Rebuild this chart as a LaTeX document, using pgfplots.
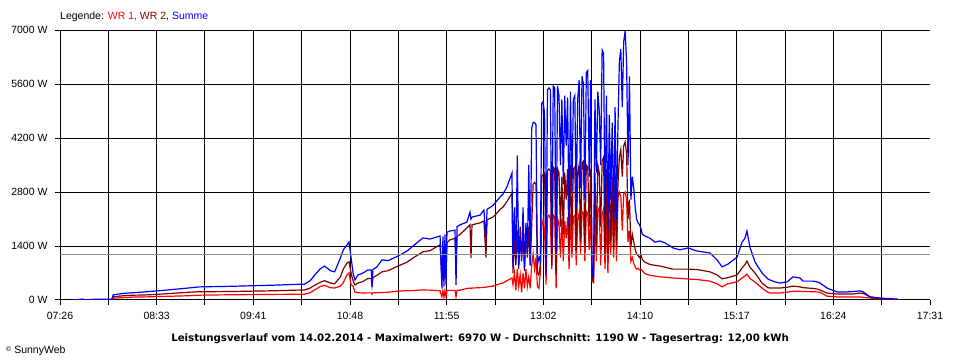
\documentclass[border=0pt]{standalone}
\usepackage{pgfplots}
\pgfplotsset{compat=1.18}
\usepackage{pgfplotstable}
\usepackage{fontspec}
\setmainfont{Liberation Sans}
\newfontfamily\titlefont{DejaVu Sans}
\definecolor{wrone}{RGB}{255,0,0}
\definecolor{wrtwo}{RGB}{128,0,0}
\definecolor{summe}{RGB}{0,0,255}
\definecolor{avg}{RGB}{140,140,140}
\pgfplotstableread{
t w1 w2 s
455 0 0 0
462 0 0 25
463 0 0 0
470 0 0 20
482 5 10 20
483 50 85 135
490 60 110 170
497 75 125 190
505 80 130 210
515 90 150 240
525 100 175 275
535 110 200 310
543 125 215 340
550 130 215 345
565 135 220 355
580 140 230 370
595 145 240 385
610 148 255 405
616 150 260 410
620 190 310 500
623 260 380 640
627 350 460 810
630 380 500 880
634 320 440 760
637 310 420 730
641 360 600 1090
643 450 800 1300
645.6 650 960 1430
647 700 990 1500
648.4 400 700 1100
649.8 360 500 700
651.1 210 390 520
653.2 190 440 650
656.7 180 480 700
660.2 185 560 780
662.5 185 560 780
663 150 380 340
663.6 185 580 790
666.4 190 640 860
669.9 195 730 1040
674.1 200 760 1020
681 230 880 1140
687.3 240 980 1270
691.5 245 1090 1400
698.4 260 1250 1610
703.3 255 1280 1580
710.3 240 1430 1660
711.6 80 500 300
712.3 240 1400 1650
713 80 520 350
713.7 240 1450 1700
714.4 90 600 400
715.1 245 1480 1760
717.2 250 1560 1790
720.7 250 1600 1810
721.4 80 880 390
722.1 250 1650 1900
724.2 255 1700 1950
729 300 1870 2020
731.1 310 1950 2280
731.8 300 1090 2100
732.5 310 1950 2150
738.1 320 2000 2200
740.8 330 2050 2330
742.2 330 1100 1600
743 340 2080 2350
747.1 360 2150 2450
748.5 380 2200 2510
752 420 2350 2670
754.1 440 2410 2750
756.8 500 2550 2930
760.3 570 2770 3290
761 400 700 850
762 700 1600 2400
763 250 900 1000
764 800 1800 3750
765 350 800 900
766 650 1900 1600
767 200 1000 1100
768 700 1700 2400
769 300 750 800
770 800 1800 2000
771 350 1100 1200
772 600 1900 3500
773 300 900 900
774 900 1900 4450
775 1200 3000 4600
776 800 3050 4600
777 1100 3000 4550
778 350 700 900
779 300 650 1100
780 700 900 1000
781 1900 3200 5100
782 2100 3250 5150
783 1800 3300 4800
784 400 700 650
785 2150 3350 5450
786 2200 3400 5500
787 2100 3350 5450
788 800 900 1200
789 2200 3450 5550
790 2150 3400 5500
791 300 700 1250
792 2100 3400 5550
793 2000 3300 5300
794 1100 1900 3500
795 2100 3200 5200
796 1000 1700 3000
797 2050 3300 5300
798 1600 2600 4000
799 2150 3400 5250
800 800 1300 1900
801 2200 3500 5400
802 1100 1700 2800
803 2150 3400 5200
804 2200 3450 5300
805 900 1300 2400
806 2100 3300 5200
807 2250 3500 5700
808 1200 1500 2900
809 2300 3550 5800
810 2250 3600 5600
811 1000 1400 2600
812 2300 3500 5900
813 2250 3450 5950
814 1300 1900 3200
815 2200 3400 5700
816 500 550 650
817 450 500 600
818 2100 3300 5200
819 1000 1400 3300
820 2300 3500 5400
821 2400 3300 4900
822 900 1900 3500
823 2200 3600 6480
824 2350 3700 6400
825 800 1200 2200
826 2200 3400 5300
827 700 1100 1800
828 2100 3300 4800
829 1200 1500 2600
830 2600 3200 4600
831 1100 1300 2000
832 2700 3300 5000
833 1000 1400 2100
834 2650 3000 4500
835 2800 3700 6200
836 2700 3900 6500
837 1800 3200 5000
838 2750 4000 6700
839 2800 4100 6970
840 2600 3800 6200
841 1500 2100 3500
842 1800 2600 5800
843 1000 1400 2600
844 1100 1700 3200
845 950 1500 2900
846 850 1300 2400
847 800 1200 2100
848 820 1150 2000
849 780 1100 1950
850 800 1170 1850
851 760 1050 1700
852.8 680 980 1660
856.3 640 920 1600
859.8 620 900 1500
863.2 600 880 1530
866.7 590 850 1480
872.3 570 800 1350
877.1 560 800 1300
882.7 545 800 1350
889 530 790 1270
898 490 730 1220
902.9 420 650 1040
906.4 340 550 860
910.5 420 580 930
916.8 470 650 1110
920.3 570 830 1500
922.3 620 920 1600
923.7 670 1010 1790
925.8 560 850 1370
929.3 465 700 985
934.2 310 440 700
938.3 200 320 545
939.7 180 310 520
943.2 180 310 470
946.7 180 310 440
951.6 200 330 470
955.7 230 360 600
960.6 225 340 570
962.7 220 320 490
969.6 215 300 490
972.4 210 285 470
974.5 200 260 440
979.4 100 180 310
986.3 80 155 210
993.3 80 155 210
997.5 80 155 220
1002.3 80 180 235
1004.4 70 175 215
1009.3 50 80 80
1016.2 30 40 50
1018.3 25 25 45
1028 10 10 25
1030 0 0 0
}\leistung
\begin{document}
\begin{tikzpicture}
\useasboundingbox (0,0) rectangle (960bp,360bp);
\fill[white] (0,0) rectangle (960bp,360bp);
\begin{axis}[
  at={(60bp,60bp)}, anchor=south west,
  scale only axis, width=870bp, height=270bp,
  xmin=446, xmax=1051, ymin=0, ymax=7000,
  axis lines=left, axis line style={-, line width=1bp, black},
  xtick={446,479.61,513.22,546.83,580.44,614.06,647.67,681.28,714.89,748.5,782.11,815.72,849.33,882.94,916.56,950.17,983.78,1017.39},
  xticklabels={07:26,,08:33,,09:41,,10:48,,11:55,,13:02,,14:10,,15:17,,16:24,},
  extra x ticks={1051}, extra x tick labels={17:31}, extra x tick style={grid=none},
  ytick={0,1400,2800,4200,5600,7000},
  yticklabels={0 W,1400 W,2800 W,4200 W,5600 W,7000 W},
  grid=major, major grid style={black, line width=1bp},
  tick align=outside, major tick length=5bp, tick style={black, line width=1bp},
  ticklabel style={font=\fontsize{10.5bp}{12bp}\selectfont},
  xticklabel style={yshift=-4bp},
  yticklabel style={xshift=-4bp},
]
\addplot[wrone, line width=1.2bp] table[x=t, y=w1] {\leistung};
\addplot[wrtwo, line width=1.2bp] table[x=t, y=w2] {\leistung};
\addplot[summe, line width=1.2bp] table[x=t, y=s] {\leistung};
\addplot[avg, line width=1bp] coordinates {(446,1190) (1051,1190)};
\end{axis}
\node[anchor=base west, inner sep=0pt, font=\fontsize{10.5bp}{12bp}\selectfont] at (60bp,340.5bp)
  {Legende: \textcolor{wrone}{WR 1,} \textcolor{wrtwo}{WR 2,} \textcolor{summe}{Summe}};
\node[anchor=base, inner sep=0pt, font=\titlefont\fontsize{10.2bp}{12bp}\selectfont\bfseries] at (480bp,19bp)
  {Leistungsverlauf vom 14.02.2014 - Maximalwert: 6970 W - Durchschnitt: 1190 W - Tagesertrag: 12,00 kWh};
\node[anchor=base west, inner sep=0pt, font=\fontsize{10.5bp}{12bp}\selectfont] at (6bp,7bp)
  {{\fontsize{7bp}{8bp}\selectfont\raisebox{2bp}{\textcopyright}} SunnyWeb};
\end{tikzpicture}
\end{document}
